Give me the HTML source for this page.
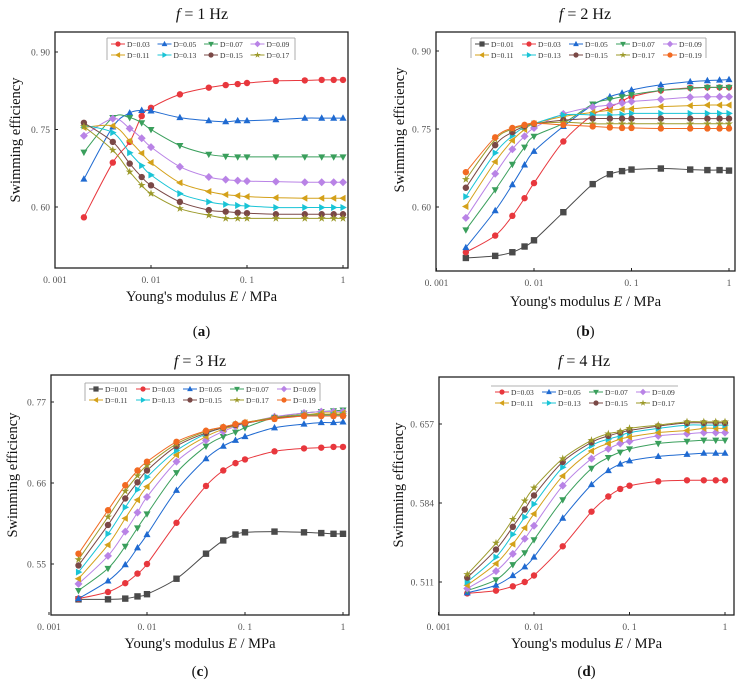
<!DOCTYPE html>
<html><head><meta charset="utf-8">
<style>
html,body{margin:0;padding:0;background:#fff;}
svg{display:block;font-family:"Liberation Serif",serif;}
</style></head>
<body>
<svg id="fig" width="745" height="690" viewBox="0 0 745 690" xmlns="http://www.w3.org/2000/svg"></svg>
<script>
const xValues=[0.002,0.004,0.006,0.008,0.01,0.02,0.04,0.06,0.08,0.1,0.2,0.4,0.6,0.8,1];
const xTickValues=[0.001,0.01,0.1,1];
const xTickLabels=["0. 001","0. 01","0. 1","1"];
const seriesNames=["D=0.01","D=0.03","D=0.05","D=0.07","D=0.09","D=0.11","D=0.13","D=0.15","D=0.17","D=0.19"];
const seriesColors=["#4a4a4a","#e8373d","#1f6ad1","#3a9f5c","#b983e6","#d4a11a","#19c4d6","#7a4846","#9c9a2a","#f26a22"];
const seriesMarkers=["square","circle","tri-up","tri-down","diamond","tri-left","tri-right","circle","star","circle"];

// Panel (a) f=1 Hz : D=0.03..0.17
const a03=[0.58,0.686,0.726,0.776,0.792,0.818,0.831,0.836,0.838,0.840,0.844,0.845,0.846,0.846,0.846];
const a05=[0.654,0.755,0.782,0.787,0.786,0.773,0.767,0.765,0.767,0.767,0.769,0.772,0.772,0.772,0.772];
const a07=[0.706,0.773,0.773,0.763,0.750,0.719,0.702,0.698,0.697,0.697,0.697,0.697,0.697,0.697,0.697];
const a09=[0.738,0.771,0.752,0.733,0.716,0.678,0.658,0.653,0.651,0.650,0.649,0.648,0.648,0.648,0.648];
const a11=[0.754,0.757,0.728,0.704,0.686,0.647,0.630,0.624,0.622,0.620,0.618,0.617,0.617,0.617,0.617];
const a13=[0.758,0.744,0.705,0.680,0.662,0.626,0.610,0.605,0.603,0.602,0.599,0.599,0.599,0.599,0.599];
const a15=[0.763,0.726,0.684,0.658,0.642,0.610,0.594,0.591,0.589,0.588,0.586,0.586,0.586,0.586,0.586];
const a17=[0.756,0.710,0.668,0.642,0.626,0.597,0.584,0.578,0.578,0.578,0.578,0.578,0.578,0.578,0.578];

// Panel (b) f=2 Hz : D=0.01..0.19
const b01=[0.502,0.506,0.513,0.524,0.536,0.590,0.644,0.663,0.669,0.672,0.674,0.672,0.671,0.671,0.670];
const b03=[0.513,0.545,0.583,0.617,0.646,0.726,0.777,0.792,0.803,0.812,0.824,0.829,0.830,0.830,0.830];
const b05=[0.522,0.593,0.643,0.681,0.707,0.755,0.796,0.812,0.819,0.825,0.835,0.841,0.843,0.844,0.845];
const b07=[0.556,0.633,0.682,0.715,0.736,0.761,0.798,0.807,0.812,0.816,0.824,0.828,0.830,0.830,0.830];
const b09=[0.579,0.664,0.711,0.736,0.752,0.779,0.792,0.796,0.800,0.803,0.807,0.811,0.812,0.812,0.812];
const b11=[0.601,0.687,0.728,0.749,0.760,0.774,0.782,0.786,0.788,0.789,0.793,0.795,0.796,0.796,0.796];
const b13=[0.620,0.704,0.737,0.754,0.760,0.777,0.777,0.777,0.778,0.780,0.780,0.780,0.780,0.780,0.780];
const b15=[0.637,0.719,0.744,0.755,0.760,0.767,0.770,0.770,0.770,0.770,0.770,0.770,0.770,0.770,0.770];
const b17=[0.653,0.730,0.750,0.756,0.760,0.763,0.760,0.760,0.760,0.760,0.760,0.760,0.760,0.760,0.760];
const b19=[0.667,0.734,0.752,0.758,0.761,0.758,0.755,0.753,0.752,0.752,0.751,0.751,0.751,0.751,0.751];

// Panel (c) f=3 Hz : D=0.01..0.19
const c01=[0.502,0.502,0.503,0.506,0.509,0.530,0.564,0.582,0.590,0.593,0.594,0.593,0.592,0.591,0.591];
const c03=[0.503,0.512,0.524,0.537,0.550,0.606,0.656,0.677,0.687,0.692,0.703,0.707,0.708,0.709,0.709];
const c05=[0.503,0.527,0.549,0.572,0.590,0.650,0.693,0.710,0.718,0.723,0.735,0.740,0.742,0.742,0.743];
const c07=[0.514,0.544,0.574,0.599,0.618,0.674,0.710,0.723,0.729,0.735,0.749,0.755,0.757,0.758,0.759];
const c09=[0.523,0.561,0.594,0.620,0.641,0.689,0.718,0.730,0.737,0.741,0.750,0.755,0.757,0.757,0.757];
const c11=[0.530,0.576,0.612,0.637,0.655,0.698,0.723,0.733,0.738,0.742,0.748,0.752,0.755,0.755,0.755];
const c13=[0.539,0.591,0.627,0.651,0.668,0.704,0.727,0.735,0.739,0.741,0.748,0.752,0.752,0.752,0.752];
const c15=[0.548,0.603,0.639,0.661,0.677,0.710,0.728,0.735,0.739,0.741,0.748,0.751,0.751,0.751,0.751];
const c17=[0.556,0.614,0.649,0.670,0.684,0.713,0.730,0.736,0.740,0.742,0.749,0.753,0.753,0.753,0.753];
const c19=[0.564,0.623,0.657,0.677,0.689,0.716,0.731,0.736,0.740,0.742,0.747,0.751,0.751,0.751,0.751];

// Panel (d) f=4 Hz : D=0.03..0.17
const d03=[0.5005,0.503,0.507,0.511,0.517,0.544,0.576,0.590,0.597,0.600,0.604,0.605,0.605,0.605,0.605];
const d05=[0.501,0.508,0.517,0.525,0.534,0.570,0.601,0.614,0.620,0.623,0.627,0.629,0.630,0.630,0.630];
const d07=[0.503,0.513,0.527,0.538,0.550,0.587,0.616,0.626,0.631,0.634,0.639,0.641,0.642,0.642,0.642];
const d09=[0.505,0.521,0.537,0.551,0.563,0.600,0.625,0.634,0.639,0.641,0.646,0.648,0.649,0.649,0.649];
const d11=[0.508,0.528,0.546,0.561,0.574,0.609,0.632,0.639,0.643,0.645,0.649,0.651,0.653,0.653,0.653];
const d13=[0.511,0.534,0.555,0.571,0.583,0.617,0.637,0.643,0.646,0.649,0.653,0.656,0.656,0.656,0.656];
const d15=[0.515,0.541,0.562,0.578,0.591,0.622,0.640,0.646,0.649,0.651,0.655,0.658,0.658,0.658,0.658];
const d17=[0.518,0.547,0.569,0.586,0.598,0.625,0.642,0.648,0.650,0.653,0.656,0.659,0.659,0.659,0.659];

const aYTicks=[0.60,0.75,0.90], aYLabels=["0. 60","0. 75","0. 90"];
const bYTicks=[0.60,0.75,0.90], bYLabels=["0. 60","0. 75","0. 90"];
const cYTicks=[0.55,0.66,0.77], cYLabels=["0. 55","0. 66","0. 77"];
const dYTicks=[0.511,0.584,0.657], dYLabels=["0. 511","0. 584","0. 657"];

const NS="http://www.w3.org/2000/svg";
const svg=document.getElementById('fig');
function mk(tag,attrs,parent){const e=document.createElementNS(NS,tag);for(const k in attrs)e.setAttribute(k,attrs[k]);(parent||svg).appendChild(e);return e;}

function marker(g,type,x,y,color,s){
  let e;
  if(type==="square"){e=mk('rect',{x:x-s,y:y-s,width:2*s,height:2*s,fill:color},g);}
  else if(type==="circle"){e=mk('circle',{cx:x,cy:y,r:s,fill:color},g);}
  else{
    let p;
    if(type==="tri-up")p=[[0,-1.2],[1.1,0.8],[-1.1,0.8]];
    else if(type==="tri-down")p=[[0,1.2],[1.1,-0.8],[-1.1,-0.8]];
    else if(type==="tri-left")p=[[-1.2,0],[0.8,-1.1],[0.8,1.1]];
    else if(type==="tri-right")p=[[1.2,0],[-0.8,-1.1],[-0.8,1.1]];
    else if(type==="diamond")p=[[0,-1.25],[1.25,0],[0,1.25],[-1.25,0]];
    else{p=[];for(let i=0;i<10;i++){const r=i%2?0.5:1.3,a=-Math.PI/2+i*Math.PI/5;p.push([r*Math.cos(a),r*Math.sin(a)]);}}
    e=mk('polygon',{points:p.map(q=>(x+q[0]*s)+','+(y+q[1]*s)).join(' '),fill:color},g);
  }
  return e;
}

function smoothPath(pts){
  let d='M'+pts[0][0]+','+pts[0][1];
  for(let i=0;i<pts.length-1;i++){
    const p0=pts[i-1]||pts[i],p1=pts[i],p2=pts[i+1],p3=pts[i+2]||p2;
    const c1=[p1[0]+(p2[0]-p0[0])/6,p1[1]+(p2[1]-p0[1])/6];
    const c2=[p2[0]-(p3[0]-p1[0])/6,p2[1]-(p3[1]-p1[1])/6];
    d+=' C'+c1[0]+','+c1[1]+' '+c2[0]+','+c2[1]+' '+p2[0]+','+p2[1];
  }
  return d;
}

function panel(cfg){
  const g=mk('g',{});
  
  
  const xs=v=>cfg.x0+Math.log10(v/0.001)*cfg.dec;
  const ys=v=>cfg.yRef-(v-cfg.vRef)/cfg.vStep*cfg.pxStep;
  const fr=mk('rect',{x:cfg.L,y:cfg.T,width:cfg.R-cfg.L,height:cfg.B-cfg.T,fill:'none',stroke:'#222','stroke-width':1.3},g);
  
  
  xTickValues.forEach((v,i)=>{
    const x=xs(v);
    mk('line',{x1:x,y1:cfg.B,x2:x,y2:cfg.B-3,stroke:'#222','stroke-width':1},g);
    const t=mk('text',{x:x,y:cfg.B+15,'text-anchor':'middle','font-size':9.5,fill:'#555'},g);
    t.textContent=xTickLabels[i];
    
    
  });
  cfg.yT.forEach((v,i)=>{
    const y=ys(v);
    mk('line',{x1:cfg.L,y1:y,x2:cfg.L+3,y2:y,stroke:'#222','stroke-width':1},g);
    const t=mk('text',{x:cfg.L-5,y:y+3.5,'text-anchor':'end','font-size':9.5,fill:'#555'},g);
    t.textContent=cfg.yL[i];
    
    
  });
  const tt=mk('text',{x:cfg.titleX,y:cfg.titleY,'text-anchor':'middle','font-size':16,fill:'#111'},g);
  tt.innerHTML='<tspan font-style="italic">f</tspan> = '+cfg.freq+' Hz';
  
  
  const xl=mk('text',{x:(cfg.L+cfg.R)/2,y:cfg.xlY,'text-anchor':'middle','font-size':14.5,fill:'#111'},g);
  xl.innerHTML="Young's modulus <tspan font-style='italic'>E</tspan> / MPa";
  
  
  const yl=mk('text',{x:0,y:0,'text-anchor':'middle','font-size':14.5,fill:'#111',transform:'translate('+cfg.ylX+','+cfg.ylY+') rotate(-90)'},g);
  yl.textContent='Swimming efficiency';
  
  
  const pl=mk('text',{x:(cfg.L+cfg.R)/2,y:cfg.plY,'text-anchor':'middle','font-size':15,fill:'#111'},g);
  pl.innerHTML='(<tspan font-weight="bold">'+cfg.letter+'</tspan>)';
  
  
  cfg.series.forEach((s,k)=>{
    const idx=cfg.idx[k], col=seriesColors[idx];
    const sg=mk('g',{},g);
    
    
    const pts=xValues.map((v,i)=>[xs(v),ys(s[i])]);
    mk('path',{d:smoothPath(pts),fill:'none',stroke:col,'stroke-width':1},sg);
    pts.forEach(p=>{const m=marker(sg,seriesMarkers[idx],p[0],p[1],col,3.2);
      
      });
  });
  const lg=mk('g',{},g);
  
  
  mk('line',{x1:cfg.lgX,y1:cfg.lgY,x2:cfg.lgX+cfg.lgW,y2:cfg.lgY,stroke:'#999','stroke-width':0.8},lg);
  mk('line',{x1:cfg.lgX,y1:cfg.lgY,x2:cfg.lgX,y2:cfg.lgY+cfg.lgH,stroke:'#999','stroke-width':0.8},lg);
  mk('line',{x1:cfg.lgX+cfg.lgW,y1:cfg.lgY,x2:cfg.lgX+cfg.lgW,y2:cfg.lgY+cfg.lgH,stroke:'#999','stroke-width':0.8},lg);
  const per=cfg.perRow;
  cfg.idx.forEach((idx,k)=>{
    const r=Math.floor(k/per),c=k%per;
    const x=cfg.lgX+4+c*cfg.lgSp, y=cfg.lgY+6+r*11;
    const eg=mk('g',{},lg);
    
    
    mk('line',{x1:x,y1:y,x2:x+14,y2:y,stroke:seriesColors[idx],'stroke-width':1},eg);
    marker(eg,seriesMarkers[idx],x+7,y,seriesColors[idx],2.6);
    const t=mk('text',{x:x+16,y:y+2.8,'font-size':7.5,fill:'#333'},eg);
    t.textContent=seriesNames[idx];
  });
}

panel({name:'panel-a-1hz',freq:1,letter:'a',L:55,R:348,T:32,B:268,x0:55,dec:96,yRef:207,vRef:0.60,vStep:0.15,pxStep:77.5,
  yT:aYTicks,yL:aYLabels,titleX:202,titleY:19,xlY:301,ylX:20,ylY:140,plY:336,
  series:[a03,a05,a07,a09,a11,a13,a15,a17],idx:[1,2,3,4,5,6,7,8],lgX:107,lgY:38,lgW:188,lgH:22,perRow:4,lgSp:46.5});
panel({name:'panel-b-2hz',freq:2,letter:'b',L:436,R:735,T:32,B:271,x0:436.5,dec:97.5,yRef:207,vRef:0.60,vStep:0.15,pxStep:78,
  yT:bYTicks,yL:bYLabels,titleX:585,titleY:19,xlY:306,ylX:404,ylY:130,plY:336,
  series:[b01,b03,b05,b07,b09,b11,b13,b15,b17,b19],idx:[0,1,2,3,4,5,6,7,8,9],lgX:471,lgY:38,lgW:235,lgH:20,perRow:5,lgSp:47});
panel({name:'panel-c-3hz',freq:3,letter:'c',L:51,R:349,T:375,B:615,x0:49,dec:98,yRef:564,vRef:0.55,vStep:0.11,pxStep:81,
  yT:cYTicks,yL:cYLabels,titleX:200,titleY:366,xlY:648,ylX:17,ylY:475,plY:676,
  series:[c01,c03,c05,c07,c09,c11,c13,c15,c17,c19],idx:[0,1,2,3,4,5,6,7,8,9],lgX:85,lgY:383,lgW:235,lgH:18,perRow:5,lgSp:47});
panel({name:'panel-d-4hz',freq:4,letter:'d',L:439,R:734,T:377,B:615,x0:438.5,dec:95.5,yRef:582,vRef:0.511,vStep:0.073,pxStep:79,
  yT:dYTicks,yL:dYLabels,titleX:584,titleY:366,xlY:648,ylX:403,ylY:485,plY:676,
  series:[d03,d05,d07,d09,d11,d13,d15,d17],idx:[1,2,3,4,5,6,7,8],lgX:491,lgY:386,lgW:187,lgH:0,perRow:4,lgSp:47});
</script>
</body></html>
